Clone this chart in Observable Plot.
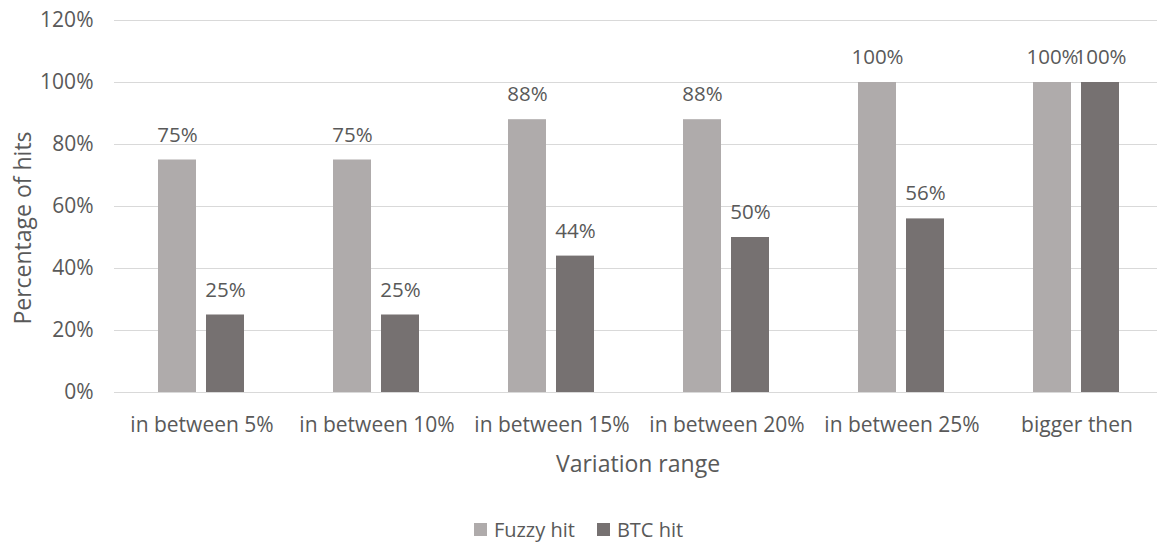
<!DOCTYPE html>
<html>
<head>
<meta charset="utf-8">
<script src="https://cdn.jsdelivr.net/npm/d3@7"></script>
<script src="https://cdn.jsdelivr.net/npm/@observablehq/plot@0.6"></script>
<style>
  html, body { margin: 0; padding: 0; background: #ffffff; }
  #chart { width: 1157px; position: relative; }
  .title {
    position: absolute; font-family: "Open Sans", sans-serif; font-size: 23px; color: #595959;
    white-space: nowrap; line-height: 1; transform: translate(-50%, -50%);
  }
  #ytitle { transform: translate(-50%, -50%) rotate(-90deg); }
  #legend {
    width: 1157px; height: 45px; display: flex; justify-content: center; align-items: flex-end;
    font-family: "Open Sans", sans-serif; font-size: 20px; color: #595959; box-sizing: border-box; padding-bottom: 2px;
  }
  .item { display: flex; align-items: center; margin: 0 11px; }
  .swatch { width: 13px; height: 13px; margin-right: 7px; }
</style>
</head>
<body>
<div id="chart">
  <div class="title" id="ytitle" style="left:22px; top:228px;">Percentage of hits</div>
  <div class="title" id="xtitle" style="left:638px; top:463px;">Variation range</div>
</div>
<div id="legend"></div>
<script>
// Variation ranges on the horizontal axis
const categories = ["in between 5%", "in between 10%", "in between 15%", "in between 20%", "in between 25%", "bigger then"];
// The two hit series
const seriesNames = ["Fuzzy hit", "BTC hit"];
const fuzzyHit = [75, 75, 88, 88, 100, 100];
const btcHit = [25, 25, 44, 50, 56, 100];
const seriesColors = ["#AFABAB", "#767171"];
// Percentage ticks on the vertical axis
const yTicks = [0, 20, 40, 60, 80, 100, 120];

const rows = categories.flatMap((c, i) => [
  {category: c, series: seriesNames[0], value: fuzzyHit[i]},
  {category: c, series: seriesNames[1], value: btcHit[i]}
]);

const chart = Plot.plot({
  width: 1157,
  height: 500,
  marginLeft: 113,
  marginRight: -7,
  marginTop: 20,
  marginBottom: 108,
  style: {fontFamily: "'Open Sans', sans-serif", fontSize: "21px", color: "#595959", background: "#ffffff", overflow: "visible"},
  facet: {data: rows, x: "category"},
  fx: {domain: categories, padding: 0, axis: "bottom", tickSize: 0, tickPadding: 25, label: null},
  x: {domain: seriesNames, axis: null, paddingInner: 0.206, paddingOuter: 0.9},
  y: {domain: [0, 120], ticks: yTicks, tickFormat: d => d + "%", tickSize: 0, tickPadding: 21, label: null},
  color: {domain: seriesNames, range: seriesColors},
  marks: [
    Plot.ruleY(yTicks, {stroke: "#D9D9D9", strokeWidth: 1}),
    Plot.barY(rows, {x: "series", y: "value", fill: "series"}),
    Plot.text(rows, {x: "series", y: "value", text: d => d.value + "%", dy: -25, fill: "#595959", fontSize: 20.5})
  ]
});
document.getElementById("chart").insertBefore(chart, document.getElementById("chart").firstChild);

// Legend below the chart, built from the same series arrays
const legend = document.getElementById("legend");
seriesNames.forEach((name, i) => {
  const item = document.createElement("div");
  item.className = "item";
  const sw = document.createElement("span");
  sw.className = "swatch";
  sw.style.background = seriesColors[i];
  const label = document.createElement("span");
  label.textContent = name;
  item.appendChild(sw);
  item.appendChild(label);
  legend.appendChild(item);
});
</script>
</body>
</html>
